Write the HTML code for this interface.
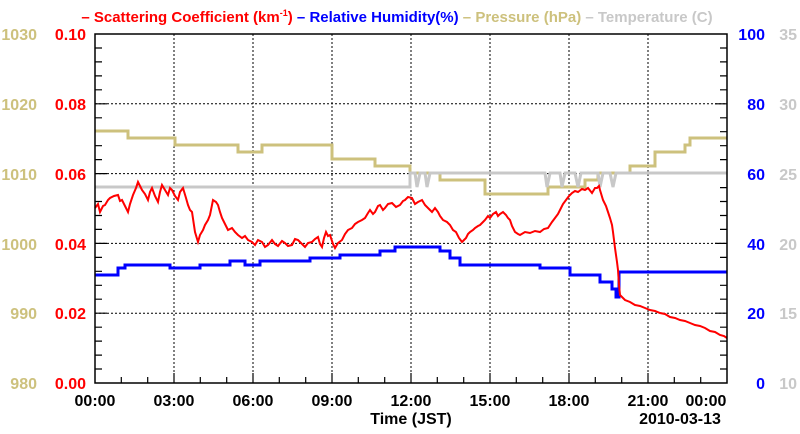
<!DOCTYPE html>
<html><head><meta charset="utf-8"><style>
html,body{margin:0;padding:0;background:#fff;}
svg{display:block;font-family:"Liberation Sans",sans-serif;font-weight:bold;}
</style></head><body>
<svg width="800" height="434" viewBox="0 0 800 434" xmlns="http://www.w3.org/2000/svg">
<rect width="800" height="434" fill="#fff"/>
<text y="22" font-size="15" text-anchor="middle" x="397">
<tspan fill="#f00">– Scattering Coefficient (km</tspan><tspan fill="#f00" font-size="9" dy="-6">-1</tspan><tspan fill="#f00" dy="6">)</tspan><tspan fill="#00f"> – Relative Humidity(%)</tspan><tspan fill="#cdc17d"> – Pressure (hPa)</tspan><tspan fill="#c8c8c8"> – Temperature (C)</tspan>
</text>
<g stroke="#000" stroke-width="1" stroke-dasharray="2,2">
<line x1="174" y1="34" x2="174" y2="383"/><line x1="253" y1="34" x2="253" y2="383"/>
<line x1="332" y1="34" x2="332" y2="383"/><line x1="411" y1="34" x2="411" y2="383"/>
<line x1="490" y1="34" x2="490" y2="383"/><line x1="569" y1="34" x2="569" y2="383"/>
<line x1="648" y1="34" x2="648" y2="383"/>
<line x1="95" y1="103.8" x2="727" y2="103.8"/><line x1="95" y1="173.6" x2="727" y2="173.6"/>
<line x1="95" y1="243.4" x2="727" y2="243.4"/><line x1="95" y1="313.2" x2="727" y2="313.2"/>
</g>
<g stroke="#000" stroke-width="1.2">
<path d="M121.3,383v-6M147.7,383v-6M174,383v-10M200.3,383v-6M226.7,383v-6M253,383v-10M279.3,383v-6M305.7,383v-6M332,383v-10M358.3,383v-6M384.7,383v-6M411,383v-10M437.3,383v-6M463.7,383v-6M490,383v-10M516.3,383v-6M542.7,383v-6M569,383v-10M595.3,383v-6M621.7,383v-6M648,383v-10M674.3,383v-6M700.7,383v-6"/>
<path d="M95,48h7M95,61.9h7M95,75.9h7M95,89.8h7M95,103.8h12M95,117.8h7M95,131.7h7M95,145.7h7M95,159.6h7M95,173.6h12M95,187.6h7M95,201.5h7M95,215.5h7M95,229.4h7M95,243.4h12M95,257.4h7M95,271.3h7M95,285.3h7M95,299.2h7M95,313.2h12M95,327.2h7M95,341.1h7M95,355.1h7M95,369h7"/>
<path d="M727,48h-7M727,61.9h-7M727,75.9h-7M727,89.8h-7M727,103.8h-12M727,117.8h-7M727,131.7h-7M727,145.7h-7M727,159.6h-7M727,173.6h-12M727,187.6h-7M727,201.5h-7M727,215.5h-7M727,229.4h-7M727,243.4h-12M727,257.4h-7M727,271.3h-7M727,285.3h-7M727,299.2h-7M727,313.2h-12M727,327.2h-7M727,341.1h-7M727,355.1h-7M727,369h-7"/>
</g>
<polyline fill="none" stroke="#cdc17d" stroke-width="3" points="95,131 128,131 128,138 175,138 175,145 238,145 238,152 262,152 262,145 332,145 332,159 375,159 375,166 410,166 410,173 440,173 440,180 485,180 485,194 548,194 548,187 585,187 585,180 598,180 598,173 630,173 630,166 655,166 655,152 685,152 685,145 690,145 690,138 727,138"/>
<polyline fill="none" stroke="#c8c8c8" stroke-width="3" points="95,187 410,187 410,173 415,173 417,187 420,173 425,173 427,187 430,173 545,173 547,187 550,173 560,173 562,187 565,173 575,173 578,187 581,173 598,173 600,187 603,173 610,173 613,187 616,173 727,173"/>
<polyline fill="none" stroke="#00f" stroke-width="3" points="95,275 118,275 118,268 125,268 125,265 170,265 170,268 200,268 200,265 230,265 230,261 245,261 245,265 260,265 260,261 310,261 310,258 340,258 340,255 380,255 380,251 395,251 395,247 440,247 440,251 450,251 450,258 460,258 460,265 540,265 540,268 570,268 570,275 600,275 600,282 612,282 612,289 616,289 616,297 619,297 619,272 727,272"/>
<polyline fill="none" stroke="#f00" stroke-width="2" points="95,208 98,204 100,212 103,206 105,205 108,200 110,198 114,196 118,195 120,201 122,200 125,206 128,212 130,204 133,195 136,188 138,182 140,186 142,190 145,194 148,200 150,192 152,188 155,196 158,202 160,192 162,185 165,190 168,195 170,188 172,190 175,196 178,200 180,192 183,188 186,198 188,205 190,210 192,212 195,232 198,242 200,235 203,230 205,225 208,220 210,215 213,200 216,202 218,205 220,212 222,218 225,224 228,230 232,228 235,232 238,235 242,238 245,236 248,240 252,242 255,245 258,240 262,242 265,247 268,245 272,240 275,244 278,246 282,241 285,243 288,246 292,245 295,239 298,240 302,244 305,247 308,243 312,242 315,239 318,237 320,244 322,247 324,238 326,232 328,236 330,235 333,244 335,248 338,243 342,240 345,234 348,230 352,228 355,224 358,222 362,220 365,218 368,213 370,210 373,214 375,212 378,206 380,205 383,210 385,208 388,204 392,203 396,207 400,205 403,201 405,200 408,197 412,198 415,204 418,202 422,200 425,205 428,208 430,210 432,212 435,208 438,212 440,216 443,220 447,222 450,225 453,230 456,232 459,238 462,242 464,240 466,238 468,234 470,232 473,230 475,228 478,226 480,225 483,222 485,220 488,216 490,218 493,214 496,212 498,216 500,214 503,212 506,215 508,218 510,220 512,226 515,232 518,234 520,235 525,232 530,233 535,231 540,232 544,229 548,228 552,222 555,218 558,214 560,210 563,204 566,200 569,196 572,193 575,191 578,192 582,189 585,190 588,188 592,193 595,188 597,188 599,186 600,190 603,200 606,206 608,212 610,218 612,225 613,232 614,240 615,248 616,255 617,262 618,270 619,285 620,295 623,298 625,300 630,302 635,305 640,306 645,308 650,310 655,311 660,313 665,314 670,317 675,318 680,320 685,321 690,323 695,325 700,326 705,328 710,331 715,332 720,335 724,336 727,338"/>
<rect x="95" y="34" width="632" height="349" fill="none" stroke="#000" stroke-width="1.5"/>
<g font-size="16" fill="#cdc17d" text-anchor="end">
<text x="37" y="40">1030</text><text x="37" y="110">1020</text><text x="37" y="180">1010</text>
<text x="37" y="250">1000</text><text x="37" y="319">990</text><text x="37" y="389">980</text></g>
<g font-size="16" fill="#f00" text-anchor="end">
<text x="86" y="40">0.10</text><text x="86" y="110">0.08</text><text x="86" y="180">0.06</text>
<text x="86" y="250">0.04</text><text x="86" y="319">0.02</text><text x="86" y="389">0.00</text></g>
<g font-size="16" fill="#00f" text-anchor="end">
<text x="765" y="40">100</text><text x="765" y="110">80</text><text x="765" y="180">60</text>
<text x="765" y="250">40</text><text x="765" y="319">20</text><text x="765" y="389">0</text></g>
<g font-size="16" fill="#c8c8c8" text-anchor="end">
<text x="797" y="40">35</text><text x="797" y="110">30</text><text x="797" y="180">25</text>
<text x="797" y="250">20</text><text x="797" y="319">15</text><text x="797" y="389">10</text></g>
<g font-size="16" fill="#000" text-anchor="middle">
<text x="95" y="406">00:00</text><text x="174" y="406">03:00</text><text x="253" y="406">06:00</text>
<text x="332" y="406">09:00</text><text x="411" y="406">12:00</text><text x="490" y="406">15:00</text>
<text x="569" y="406">18:00</text><text x="648" y="406">21:00</text><text x="706" y="406">00:00</text>
<text x="411" y="424">Time (JST)</text><text x="680" y="424">2010-03-13</text></g>
</svg>
</body></html>
